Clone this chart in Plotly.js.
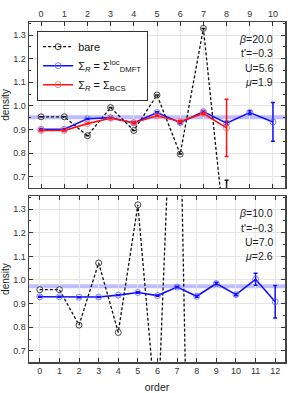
<!DOCTYPE html>
<html>
<head>
<meta charset="utf-8">
<script src="https://cdn.plot.ly/plotly-3.0.1.min.js"></script>
<style>html,body{margin:0;padding:0;background:#fff}#chart{width:291px;height:393px}</style>
</head>
<body>
<div id="chart"></div>
<script>
// ---- top panel (beta=20) ----
var topOrderBare = [0,1,2,3,4,5,6,7,8];
var topBare      = [0.954,0.954,0.874,0.993,0.896,1.046,0.796,1.328,0.39];
var topBareErr   = [0,0,0,0,0,0,0,0,0.295];
var topOrderDmft = [0,1,2,3,4,5,6,7,8,9,10];
var topDmft      = [0.901,0.901,0.946,0.950,0.928,0.972,0.929,0.976,0.927,0.972,0.932];
var topDmftErr   = [0.002,0.002,0.002,0.002,0.003,0.003,0.004,0.005,0.006,0.008,0.082];
var topOrderBcs  = [0,1,2,3,4,5,6,7,8];
var topBcs       = [0.896,0.896,0.925,0.948,0.929,0.958,0.934,0.968,0.907];
var topBcsErr    = [0.002,0.002,0.002,0.002,0.003,0.003,0.004,0.005,0.121];
var topBand      = 0.952;
var topParams    = ['<i>β</i>=20.0','t\'=−0.3','U=5.6','<i>μ</i>=1.9'];

// ---- bottom panel (beta=10) ----
var botOrderBare = [0,1,2,3,4,5,6,7,8];
var botBare      = [0.959,0.959,0.809,1.072,0.778,1.318,0.37,2.45,-1.9];
var botOrderDmft = [0,1,2,3,4,5,6,7,8,9,10,11,12];
var botDmft      = [0.929,0.929,0.927,0.928,0.936,0.947,0.934,0.970,0.931,0.985,0.938,1.003,0.908];
var botDmftErr   = [0.002,0.002,0.002,0.002,0.002,0.003,0.003,0.003,0.004,0.005,0.005,0.025,0.069];
var botBand      = 0.973;
var botParams    = ['<i>β</i>=10.0','t\'=−0.3','U=7.0','<i>μ</i>=2.6'];

var topTicks = [0,1,2,3,4,5,6,7,8,9,10];
var botTicks = [0,1,2,3,4,5,6,7,8,9,10,11,12];
var yTicks   = [0.7,0.8,0.9,1.0,1.1,1.2,1.3];

var FONT = 'Liberation Sans, Arial, sans-serif';
var BLUE = '#1010ff', RED = '#ff1010', BLK = '#111';

function errY(arr, color){
  return {type:'data', array:arr, visible:true, color:color, thickness:1.5, width:2};
}

var traces = [
  {x:topOrderBare, y:topBare, xaxis:'x', yaxis:'y', mode:'lines+markers', name:'bare',
   line:{color:BLK, width:1.3, dash:'3px,2px'},
   marker:{symbol:'circle-open', size:6, color:'#444', line:{width:1}},
   error_y:errY(topBareErr, BLK), legendrank:1},
  {x:topOrderDmft, y:topDmft, xaxis:'x', yaxis:'y', mode:'lines+markers',
   name:'Σ<sub><i>R</i></sub> = Σ<sup>loc</sup><sub>DMFT</sub>',
   line:{color:BLUE, width:1.6},
   marker:{symbol:'circle-open', size:6, color:'rgba(90,90,255,0.75)', line:{width:1}},
   error_y:errY(topDmftErr, BLUE), legendrank:2},
  {x:topOrderBcs, y:topBcs, xaxis:'x', yaxis:'y', mode:'lines+markers',
   name:'Σ<sub><i>R</i></sub> = Σ<sub>BCS</sub>',
   line:{color:RED, width:1.6},
   marker:{symbol:'circle-open', size:6, color:'rgba(255,90,90,0.75)', line:{width:1}},
   error_y:errY(topBcsErr, RED), legendrank:3},
  {x:botOrderBare, y:botBare, xaxis:'x2', yaxis:'y2', mode:'lines+markers', showlegend:false,
   line:{color:BLK, width:1.3, dash:'3px,2px'},
   marker:{symbol:'circle-open', size:6, color:'#444', line:{width:1}}},
  {x:botOrderDmft, y:botDmft, xaxis:'x2', yaxis:'y2', mode:'lines+markers', showlegend:false,
   line:{color:BLUE, width:1.6},
   marker:{symbol:'circle-open', size:6, color:'rgba(90,90,255,0.75)', line:{width:1}},
   error_y:errY(botDmftErr, BLUE)}
];

function yax(domain){
  return {domain:domain, range:[0.653,1.355], tickvals:yTicks, ticktext:yTicks.map(function(v){return v.toFixed(1);}),
    ticks:'inside', ticklen:4, tickwidth:1, tickcolor:'#333', mirror:'ticks', showline:true, linecolor:'#444', linewidth:1.5,
    showgrid:true, gridcolor:'#e6e6e6', gridwidth:1, zeroline:false,
    minor:{ticks:'inside', ticklen:2, dtick:0.05, tickcolor:'#333', showgrid:false},
    tickfont:{size:9, color:'#333', family:FONT},
    title:{text:'density', font:{size:10, color:'#222', family:FONT}, standoff:5}};
}
function xax(ticks, range, side, anchor){
  return {range:range, tickvals:ticks, ticktext:ticks.map(String), side:side, anchor:anchor,
    ticks:'inside', ticklen:4, tickwidth:1, tickcolor:'#333', mirror:'ticks', showline:true, linecolor:'#444', linewidth:1.5,
    showgrid:true, gridcolor:'#e6e6e6', gridwidth:1, zeroline:false,
    tickfont:{size:9, color:'#333', family:FONT}};
}

var topDom = [0.512, 1], botDom = [0, 0.488];
var annotations = [];
var topYs = [39,53,68,82], botYs = [213,228,242,256];
function pyPaper(px){ return (362 - px)/340; }
topParams.forEach(function(t,i){
  annotations.push({xref:'paper', yref:'paper', x:0.961, y:pyPaper(topYs[i]), text:t, showarrow:false,
    xanchor:'right', yanchor:'middle', font:{size:10.5, color:'#222', family:FONT}});
});
botParams.forEach(function(t,i){
  annotations.push({xref:'paper', yref:'paper', x:0.961, y:pyPaper(botYs[i]), text:t, showarrow:false,
    xanchor:'right', yanchor:'middle', font:{size:10.5, color:'#222', family:FONT}});
});

var xb = xax(botTicks, [-0.55,12.5], 'bottom', 'y2');
xb.title = {text:'order', font:{size:10.5, color:'#222', family:FONT}, standoff:9};

var layout = {
  width:291, height:393, margin:{l:29, r:6, t:22, b:31},
  paper_bgcolor:'#fff', plot_bgcolor:'#fff',
  font:{family:FONT, color:'#222'},
  xaxis: xax(topTicks, [-0.52,10.52], 'top', 'y'),
  yaxis: yax(topDom),
  xaxis2: xb,
  yaxis2: yax(botDom),
  shapes:[
    {type:'line', xref:'x domain', yref:'y', x0:0, x1:1, y0:topBand, y1:topBand, line:{color:'rgba(110,110,255,0.45)', width:4}, layer:'below'},
    {type:'line', xref:'x2 domain', yref:'y2', x0:0, x1:1, y0:botBand, y1:botBand, line:{color:'rgba(110,110,255,0.45)', width:4}, layer:'below'}
  ],
  annotations:annotations,
  showlegend:true,
  legend:{x:0.031, y:0.9735, xanchor:'left', yanchor:'top', bgcolor:'#fff', bordercolor:'#333', borderwidth:1.2,
    font:{size:11, color:'#111', family:FONT}, tracegroupgap:0, itemwidth:30}
};

Plotly.newPlot('chart', traces, layout, {displayModeBar:false, staticPlot:true});
</script>
</body>
</html>
